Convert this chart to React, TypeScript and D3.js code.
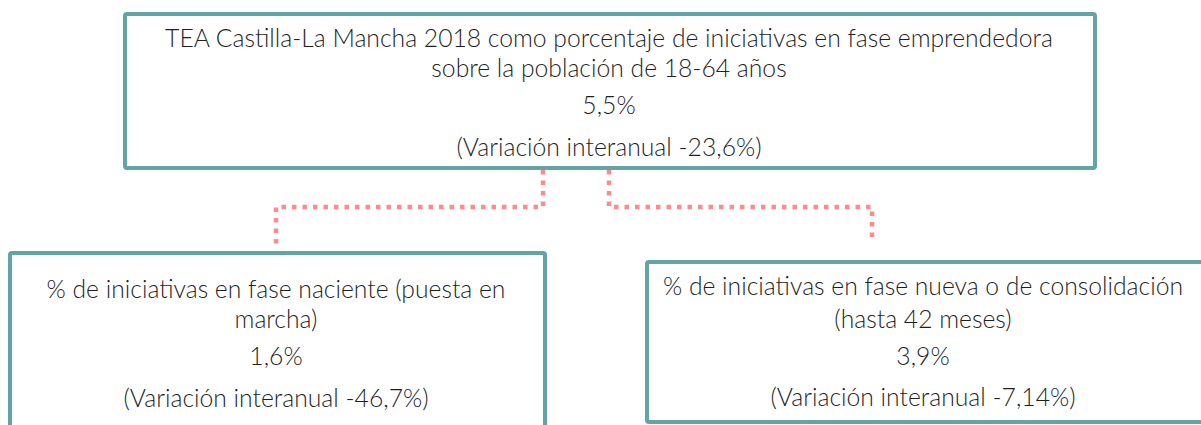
import React from "react";
import * as d3 from "d3";

const W = 1201;
const H = 425;

// Data
const boxTitles: string[][] = [
  ["TEA Castilla-La Mancha 2018 como porcentaje de iniciativas en fase emprendedora", "sobre la población de 18-64 años"],
  ["% de iniciativas en fase naciente (puesta en", "marcha)"],
  ["% de iniciativas en fase nueva o de consolidación", "(hasta 42 meses)"],
];
const boxValues: number[] = [5.5, 1.6, 3.9];
const boxVariations: string[] = ["-23,6%", "-46,7%", "-7,14%"];

// Layout (positions only)
const boxRects = [
  { x: 125, y: 14, w: 970, h: 154, cx: 609 },
  { x: 10, y: 253, w: 535, h: 190, cx: 276 },
  { x: 647, y: 262, w: 565, h: 160, cx: 923 },
];
const lineOffsets = [
  [23, 53, 90, 132],
  [35, 65, 102, 144],
  [23, 56, 93, 134],
];

const fmt = (v: number) => d3.format(".1f")(v).replace(".", ",") + "%";

const TEAL = "#64A4A6";
const SALMON = "#FF8A8A";
const TXT = "#1f1f1f";

export default function App() {
  const top = boxRects[0];
  const conn = [
    { x0: 543, xt: boxRects[1].cx, yEnd: 244 },
    { x0: 609, xt: 872, yEnd: 243 },
  ];
  const midY = 207;
  const line = d3.line<[number, number]>();
  return (
    <svg width={W} height={H} style={{ position: "absolute", left: 0, top: 0, background: "#fff" }}
      fontFamily="Lato, 'Open Sans', sans-serif">
      {conn.map((c, i) => (
        <path key={i}
          d={line([[c.x0, top.y + top.h + 2], [c.x0, midY], [c.xt, midY], [c.xt, c.yEnd]]) || ""}
          fill="none" stroke={SALMON} strokeWidth={4.5} strokeDasharray="4.5 6" />
      ))}
      {boxRects.map((r, i) => {
        const lines = [...boxTitles[i], fmt(boxValues[i]), `(Variación interanual ${boxVariations[i]})`];
        return (
          <g key={i}>
            <rect x={r.x} y={r.y} width={r.w} height={r.h} rx={2} fill="#fff" stroke={TEAL} strokeWidth={4} />
            {lines.map((t, j) => (
              <text key={j} x={r.cx} y={r.y + lineOffsets[i][j]} textAnchor="middle"
                dominantBaseline="central" fontSize={24.7} fontWeight={300} fill={TXT}>{t}</text>
            ))}
          </g>
        );
      })}
    </svg>
  );
}
